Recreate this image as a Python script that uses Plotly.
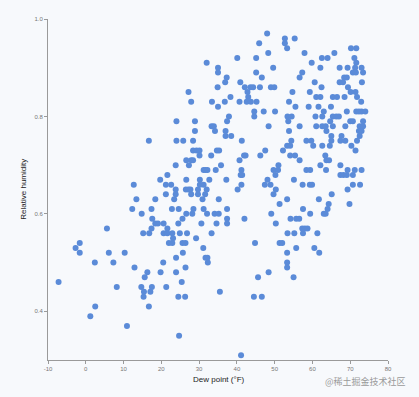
import plotly.graph_objects as go

# Dew point (°F) and relative humidity, grouped by humidity bands for readability
dew_a = [-7.2, -2.7, -1.6, -1.6, 2.4, 1.2, 2.5, 5.6, 6.1, 7.3, 8.2, 10.3, 10.9]
rh_a  = [0.46, 0.53, 0.54, 0.52, 0.50, 0.39, 0.41, 0.57, 0.52, 0.50, 0.45, 0.52, 0.37]

dew_b = [32.0, 40.1, 35.0, 35.0, 37.3, 36.9, 40.9, 34.9, 42.1, 42.8, 27.2, 38.3, 43.0,
         27.9, 33.4, 36.8, 40.7, 42.6, 35.0, 37.9, 24.0, 28.9, 37.4, 33.3, 33.9, 28.9,
         34.2, 37.0, 37.0, 38.5, 16.7, 24.0, 25.8, 28.4, 41.3, 28.4, 29.3, 30.1, 34.7,
         35.3, 30.1, 33.2, 41.9, 42.3, 26.6, 27.9, 28.4, 40.7, 23.8, 27.3, 35.8, 31.2,
         31.7, 32.2, 34.4, 41.2, 21.6, 41.0, 41.4, 19.7, 26.6, 30.2, 32.7, 37.2, 12.7,
         21.2, 22.6, 30.2, 31.2, 41.2]
rh_b  = [0.91, 0.92, 0.90, 0.89, 0.88, 0.87, 0.87, 0.86, 0.86, 0.85, 0.85, 0.84, 0.84,
         0.83, 0.83, 0.83, 0.83, 0.83, 0.82, 0.80, 0.79, 0.79, 0.79, 0.78, 0.78, 0.77,
         0.77, 0.77, 0.76, 0.76, 0.75, 0.75, 0.75, 0.75, 0.75, 0.73, 0.73, 0.73, 0.73,
         0.73, 0.72, 0.72, 0.72, 0.72, 0.71, 0.71, 0.71, 0.71, 0.70, 0.70, 0.70, 0.69,
         0.69, 0.69, 0.69, 0.69, 0.68, 0.68, 0.68, 0.67, 0.67, 0.67, 0.67, 0.67, 0.66,
         0.66, 0.66, 0.66, 0.66, 0.66]

dew_c = [23.8, 26.5, 27.2, 27.7, 29.7, 32.0, 40.2,
         21.2, 23.8, 27.9, 29.7, 31.6,
         13.4, 18.4, 23.4, 30.9, 35.2,
         12.3, 17.4, 22.8, 24.6, 28.5, 31.2, 37.4,
         14.8, 26.6, 28.2, 32.1, 34.1, 35.2,
         17.6, 25.6, 37.4, 42.0,
         18.4, 19.1, 20.6, 24.5, 30.6, 34.6, 37.4,
         17.4, 21.6,
         15.2, 16.8, 20.6, 21.6, 22.9, 24.9, 26.8, 33.3,
         23.1, 29.2,
         22.0, 22.9, 25.6, 26.4,
         31.1, 25.7,
         23.9, 31.7, 32.2,
         20.5, 32.3,
         12.9, 26.4,
         16.3, 19.8, 23.9,
         15.6, 25.4,
         14.7, 17.5, 21.3,
         15.4, 17.1, 35.5,
         15.3, 24.5, 26.3,
         16.7, 24.7, 41.1]
rh_c  = [0.65, 0.65, 0.65, 0.65, 0.65, 0.65, 0.65,
         0.64, 0.64, 0.64, 0.64, 0.64,
         0.63, 0.63, 0.63, 0.63, 0.63,
         0.61, 0.61, 0.61, 0.61, 0.61, 0.61, 0.61,
         0.60, 0.60, 0.60, 0.60, 0.60, 0.60,
         0.59, 0.59, 0.59, 0.59,
         0.58, 0.58, 0.58, 0.58, 0.58, 0.58, 0.58,
         0.57, 0.57,
         0.56, 0.56, 0.56, 0.56, 0.56, 0.56, 0.56, 0.56,
         0.55, 0.55,
         0.54, 0.54, 0.54, 0.54,
         0.53, 0.52,
         0.51, 0.51, 0.51,
         0.50, 0.50,
         0.49, 0.49,
         0.48, 0.48, 0.48,
         0.47, 0.46,
         0.45, 0.45, 0.45,
         0.44, 0.44, 0.44,
         0.43, 0.43, 0.43,
         0.41, 0.35, 0.31]

dew_d = [48.0,
         52.7, 55.3,
         45.9, 52.7,
         53.3, 70.2, 71.6,
         48.3, 57.9, 65.8,
         45.1, 62.5, 64.0, 71.1,
         59.8, 71.6,
         49.6, 62.1, 67.2, 69.3, 71.3, 73.0,
         45.1, 57.3, 70.7, 71.5, 73.4,
         46.6, 56.6, 68.4, 69.1,
         60.6, 67.2, 68.1, 73.1,
         43.6, 44.3, 46.1, 49.0, 49.9, 62.4, 69.4,
         54.7, 59.3, 70.1, 71.4,
         61.0, 62.1, 65.4, 66.5, 68.5, 71.8,
         43.7, 45.2, 53.8, 72.9,
         55.5, 59.0, 61.6, 64.9,
         44.6, 47.1, 50.1, 63.0, 69.1, 71.6, 72.3, 73.0, 74.0,
         44.6, 53.4, 54.5, 60.8, 62.6, 65.4, 66.3, 67.0,
         53.6, 64.7, 70.0, 70.7, 73.4,
         48.4, 56.6, 61.0, 62.6, 63.5, 65.4, 68.7, 72.5, 73.4,
         53.8, 63.7, 72.3, 73.0,
         65.0, 67.7, 72.5,
         54.4, 58.4, 59.7, 65.0, 67.4, 68.7, 71.8,
         53.3, 54.1, 60.2, 62.6, 64.6, 70.3,
         47.5, 52.2, 71.4,
         46.2, 54.1, 55.4, 63.4,
         56.6, 63.7, 64.4,
         51.0, 62.1, 67.4,
         49.7, 50.9, 58.4, 59.4, 63.6, 69.3, 71.2, 73.0,
         50.2, 67.4, 68.2, 69.1, 70.7,
         48.1, 55.1,
         47.4, 48.9, 57.4, 59.3, 59.9, 70.7, 72.6]
rh_d  = [0.97,
         0.96, 0.96,
         0.95, 0.95,
         0.94, 0.94, 0.94,
         0.93, 0.93, 0.93,
         0.92, 0.92, 0.92, 0.92,
         0.91, 0.91,
         0.90, 0.90, 0.90, 0.90, 0.90, 0.90,
         0.89, 0.89, 0.89, 0.89, 0.89,
         0.88, 0.88, 0.88, 0.88,
         0.87, 0.87, 0.87, 0.87,
         0.86, 0.86, 0.86, 0.86, 0.86, 0.86, 0.86,
         0.85, 0.85, 0.85, 0.85,
         0.84, 0.84, 0.84, 0.84, 0.84, 0.84,
         0.83, 0.83, 0.83, 0.83,
         0.82, 0.82, 0.82, 0.82,
         0.81, 0.81, 0.81, 0.81, 0.81, 0.81, 0.81, 0.81, 0.81,
         0.80, 0.80, 0.80, 0.80, 0.80, 0.80, 0.80, 0.80,
         0.79, 0.79, 0.79, 0.79, 0.79,
         0.78, 0.78, 0.78, 0.78, 0.78, 0.78, 0.78, 0.78, 0.78,
         0.77, 0.77, 0.77, 0.77,
         0.76, 0.76, 0.76,
         0.75, 0.75, 0.75, 0.75, 0.75, 0.75, 0.75,
         0.74, 0.74, 0.74, 0.74, 0.74, 0.74,
         0.73, 0.73, 0.73,
         0.72, 0.72, 0.72, 0.72,
         0.71, 0.71, 0.71,
         0.70, 0.70, 0.70,
         0.69, 0.69, 0.69, 0.69, 0.69, 0.69, 0.69, 0.69,
         0.68, 0.68, 0.68, 0.68, 0.68,
         0.67, 0.67,
         0.66, 0.66, 0.66, 0.66, 0.66, 0.66, 0.66]

dew_e = [50.3, 69.3, 49.7, 65.1, 53.3, 61.7, 51.3, 64.3, 69.8, 57.5, 64.0,
         49.1, 59.4, 63.0, 63.5, 54.2, 55.7, 56.5, 50.3, 57.3, 58.0, 58.7,
         53.4, 55.2, 57.5, 61.3, 44.8, 51.3, 52.0, 55.7, 60.5, 53.3, 61.8,
         53.3, 53.3, 48.4, 45.6, 55.0, 44.5, 46.6]
rh_e  = [0.65, 0.65, 0.64, 0.64, 0.63, 0.63, 0.62, 0.62, 0.62, 0.61, 0.61,
         0.60, 0.60, 0.60, 0.60, 0.59, 0.59, 0.59, 0.58, 0.57, 0.57, 0.57,
         0.56, 0.56, 0.56, 0.56, 0.54, 0.54, 0.54, 0.53, 0.53, 0.52, 0.52,
         0.50, 0.49, 0.48, 0.47, 0.47, 0.43, 0.43]

dew = dew_a + dew_b + dew_c + dew_d + dew_e
rh = rh_a + rh_b + rh_c + rh_d + rh_e

x_ticks = [-10, 0, 10, 20, 30, 40, 50, 60, 70, 80]
y_ticks = [0.4, 0.6, 0.8, 1.0]

bg = "#f7f9fc"
axis_col = "#9a9a9a"

fig = go.Figure(go.Scatter(
    x=dew, y=rh, mode="markers",
    marker=dict(size=6, color="#5b8bd8", line=dict(width=0)),
    hoverinfo="x+y",
))

fig.update_layout(
    width=419, height=397,
    margin=dict(l=48, r=31, t=19, b=37),
    paper_bgcolor=bg, plot_bgcolor=bg,
    showlegend=False,
    font=dict(family="Liberation Sans, Arial, sans-serif"),
    xaxis=dict(range=[-10, 80], tickvals=x_ticks, ticktext=[str(v) for v in x_ticks],
               showgrid=False, zeroline=False, showline=True, linecolor=axis_col,
               linewidth=1, ticks="outside", ticklen=3, tickcolor=axis_col,
               tickfont=dict(size=6, color="#777"), fixedrange=True),
    yaxis=dict(range=[0.3, 1.0], tickvals=y_ticks, tickformat=".1f",
               showgrid=False, zeroline=False, showline=True, linecolor=axis_col,
               linewidth=1, ticks="outside", ticklen=3, tickcolor=axis_col,
               tickfont=dict(size=6, color="#777"), fixedrange=True),
    annotations=[
        dict(text="Dew point (°F)", xref="paper", yref="paper", x=0.503, y=-0.058,
             xanchor="center", yanchor="middle", showarrow=False,
             font=dict(size=8, color="#222")),
        dict(text="Relative humidity", xref="paper", yref="paper", x=-0.073, y=0.5,
             xanchor="center", yanchor="middle", textangle=-90, showarrow=False,
             font=dict(size=8, color="#222")),
        dict(text="@稀土掘金技术社区", xref="paper", yref="paper", x=1.06, y=-0.064,
             xanchor="right", yanchor="middle", showarrow=False,
             font=dict(size=9, color="#9a9a9a", family="Noto Sans CJK SC")),
    ],
)

fig.write_html("out.html", config={"displayModeBar": False})
